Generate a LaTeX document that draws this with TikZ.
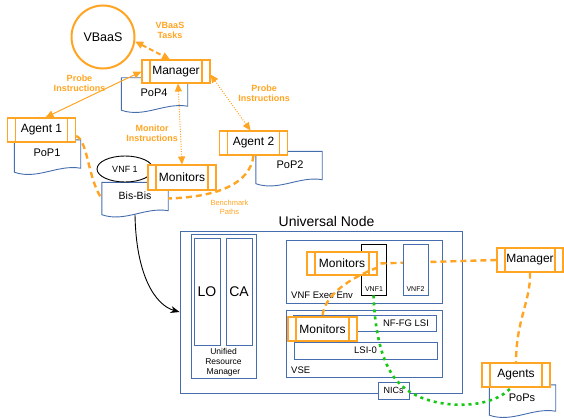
\documentclass[tikz,border=0pt]{standalone}
\usepackage{fontspec}
\setmainfont{Liberation Sans}
\usetikzlibrary{arrows.meta,shapes.geometric}
\definecolor{orng}{RGB}{255,165,35}
\definecolor{blu}{RGB}{70,110,175}
\definecolor{grn}{RGB}{20,200,20}

\begin{document}
\begin{tikzpicture}[x=1pt,y=-1pt,
  >={Triangle[length=8pt,width=7pt]},
  box/.style={draw=blu, line width=0.9pt, fill=white, inner sep=0pt},
  proc/.style={draw=orng, fill=white, line width=1.1pt, minimum width=68pt,
    minimum height=24pt, inner sep=0pt, font=\fontsize{12}{14}\selectfont,
    path picture={\draw[orng, line width=1.1pt]
      ([xshift=8pt]path picture bounding box.north west) -- ([xshift=8pt]path picture bounding box.south west)
      ([xshift=-8pt]path picture bounding box.north east) -- ([xshift=-8pt]path picture bounding box.south east);}},
  docnode/.style={minimum width=66pt, minimum height=32pt, inner sep=0pt,
    text height=8pt, text depth=8pt, font=\fontsize{11}{13}\selectfont},
  docline/.style={draw=blu, line width=0.9pt, fill=white},
  olbl/.style={text=orng, font=\bfseries\fontsize{9}{10}\selectfont, align=center, inner sep=0pt},
  txt/.style={inner sep=0pt},
  bench/.style={draw=orng, line width=2.4pt, dash pattern=on 6pt off 4pt},
  dotarrow/.style={draw=orng, line width=1pt, dash pattern=on 1pt off 1.5pt, <->},
  solidarrow/.style={draw=orng, line width=1pt, <->},
  greenpath/.style={draw=grn, line width=2.6pt, dash pattern=on 3pt off 4pt}
]
\useasboundingbox (0,0) rectangle (564,417);

% ---- documents (PoPs) ----
\node[docnode] (pop4) at (154.5,94) {};
\node[docnode] (pop1) at (47.5,156) {};
\node[docnode] (pop2) at (289,167.5) {};
\node[docnode] (bisbis) at (135,198.5) {};
\node[docnode, minimum height=30pt] (pops) at (522.5,400) {};
\foreach \d in {pop4,pop1,pop2,bisbis,pops}
  \draw[docline] (\d.south west)
    .. controls ([xshift=23pt,yshift=-8pt]\d.south west) and ([xshift=-23pt,yshift=8pt]\d.south east)
    .. ([yshift=4pt]\d.south east) -- (\d.north east) -- (\d.north west) -- cycle;
\node[txt, font=\fontsize{11}{13}\selectfont] (pop4t) at (154,93) {PoP4};
\node[txt, font=\fontsize{11}{13}\selectfont] (pop1t) at (47,153) {PoP1};
\node[txt, font=\fontsize{11}{13}\selectfont] (pop2t) at (290,165) {PoP2};
\node[txt, font=\fontsize{10.5}{12}\selectfont] (bisbist) at (135,196) {Bis-Bis};
\node[txt, font=\fontsize{11}{13}\selectfont] (popst) at (522,398) {PoPs};

% ---- VNF 1 on the Bis-Bis ----
\node[ellipse, draw=black, line width=0.9pt, fill=white, minimum width=56pt, minimum height=26pt,
  inner sep=0pt, font=\fontsize{9}{10}\selectfont] (vnfe) at (125,169) {VNF 1};

% ---- orchestration boxes ----
\node[circle, draw=orng, line width=2pt, minimum size=63pt, inner sep=0pt,
  font=\fontsize{12.5}{14}\selectfont] (vb) at (103,37) {VBaaS};
\node[proc, minimum height=23pt] (mgr) at (176,71.5) {Manager};
\node[proc] (agent1) at (41.5,130) {Agent 1};
\node[proc] (agent2) at (253.5,143) {Agent 2};
\node[proc, minimum height=25pt] (monbb) at (182,177.5) {Monitors};

% ---- labels ----
\node[olbl] (vbtask) at (170,30) {VBaaS\\Tasks};
\node[olbl] (probeL) at (79.5,83.5) {Probe\\Instructions};
\node[olbl] (probeR) at (264,93.5) {Probe\\Instructions};
\node[olbl] (monins) at (152,133.5) {Monitor\\Instructions};
\node[txt, text=orng, align=center, font=\fontsize{7.5}{9}\selectfont] (benchlbl) at (229.5,207.5) {Benchmark\\Paths};

% ---- Universal Node ----
\node[txt, font=\fontsize{14}{16}\selectfont] (untitle) at (326.5,221) {Universal Node};
\node[box, minimum width=282pt, minimum height=162pt] (un) at (321,312) {};
\node[box, minimum width=65pt, minimum height=144pt] (urm) at (223.5,306) {};
\node[box, minimum width=26pt, minimum height=107pt, font=\fontsize{14}{16}\selectfont] (lo) at (207,291.5) {LO};
\node[box, minimum width=26pt, minimum height=107pt, font=\fontsize{14}{16}\selectfont] (ca) at (239,291.5) {CA};
\node[txt, align=center, font=\fontsize{8.5}{9.8}\selectfont] (urmlbl) at (223.5,362.5) {Unified\\Resource\\Manager};

\node[box, minimum width=156pt, minimum height=63pt] (vee) at (364,271.5) {};
\node[txt, anchor=west, font=\fontsize{9.5}{11}\selectfont] (veelbl) at (291,295) {VNF Exec Env};
\node[draw=black, line width=0.9pt, fill=white, minimum width=25pt, minimum height=51pt, inner sep=0pt] (vnf1) at (373.5,269.5) {};
\node[txt, font=\fontsize{7}{8}\selectfont] (vnf1lbl) at (374,289) {VNF1};

\node[box, minimum width=156pt, minimum height=67pt] (vse) at (364,343.5) {};
\node[txt, anchor=west, font=\fontsize{9.5}{11}\selectfont] (vselbl) at (291,370) {VSE};
\node[box, minimum width=143pt, minimum height=16pt] (nffg) at (364.5,323) {};
\node[txt, font=\fontsize{9.5}{11}\selectfont] (nffglbl) at (406,323) {NF-FG LSI};
\node[box, minimum width=143pt, minimum height=17pt, font=\fontsize{9.5}{11}\selectfont] (lsi0) at (365.5,350.5) {LSI-0};
\node[box, minimum width=31pt, minimum height=17pt, font=\fontsize{9}{11}\selectfont] (nics) at (393.5,390.5) {NICs};

\node[proc, minimum width=70pt, minimum height=23pt] (monvnf) at (342,263.5) {Monitors};
\node[proc, minimum width=69pt] (monvse) at (322.5,329) {Monitors};
\node[proc, minimum width=66pt] (mgr2) at (530,260) {Manager};
\node[proc] (agents) at (516,375) {Agents};

% ---- connectors: orchestration ----
\draw[draw=orng, line width=2pt, dash pattern=on 5pt off 3pt, <->] (vb.-8) -- ([xshift=-6pt]mgr.north);
\draw[solidarrow] (mgr.west) -- ([xshift=4pt]agent1.north);
\draw[dotarrow] ([yshift=-3pt]mgr.east) -- ([xshift=-3pt]agent2.north);
\draw[dotarrow] ([xshift=2pt]mgr.south) -- (monbb.north);

% ---- benchmark paths ----
\draw[bench] ([yshift=-6pt]agent1.east) .. controls (88,140) and (88,180) .. (bisbis.west);
\draw[bench] (agent2.south) .. controls (250,185) and (215,197) .. (bisbis.east);

% ---- deployment on the Universal Node ----
\draw[black, line width=0.9pt, -{Stealth[length=9pt,width=7pt]}] (bisbis.south) .. controls (136,275) and (155,305) .. (un.west);

% ---- monitoring and probing inside the node ----
\draw[bench] (mgr2.west) -- (monvnf.east);
\draw[bench] ([yshift=-4pt]monvnf.east) .. controls (350,278) and (324,295) .. (monvse.north);
\draw[bench] (mgr2.south) .. controls (531,300) and (516,320) .. (agents.north);

\node[box, minimum width=25pt, minimum height=51pt] (vnf2) at (415.5,269.5) {};
\node[txt, font=\fontsize{7}{8}\selectfont] (vnf2lbl) at (415.5,289) {VNF2};

% ---- data path from VNF1 through the NICs to the PoPs ----
\coordinate (nicpass) at (400,384);
\draw[greenpath] (vnf1.south) .. controls (375,335) and (383,368) .. (nicpass)
  .. controls (425,410) and (490,412) .. ([xshift=-5pt]agents.south);
\end{tikzpicture}
\end{document}
